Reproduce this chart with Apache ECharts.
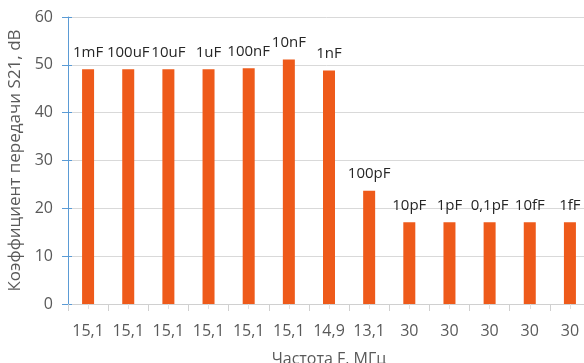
<!DOCTYPE html>
<html>
<head>
<meta charset="utf-8">
<script src="https://cdn.jsdelivr.net/npm/echarts@6/dist/echarts.min.js"></script>
<style>
html,body{margin:0;padding:0;background:#fff;}
#chart{width:584px;height:363px;}
</style>
</head>
<body>
<div id="chart"></div>
<script>
const categories = ['15,1','15,1','15,1','15,1','15,1','15,1','14,9','13,1','30','30','30','30','30'];
const values = [49.1, 49.1, 49.1, 49.1, 49.3, 51.1, 48.8, 23.7, 17.1, 17.1, 17.1, 17.1, 17.1];
const capLabels = ['1mF','100uF','10uF','1uF','100nF','10nF','1nF','100pF','10pF','1pF','0,1pF','10fF','1fF'];
const yTicks = {min: 0, max: 60, interval: 10};
const xName = 'Частота F, МГц';
const yName = 'Коэффициент передачи S21, dB';

const FONT = '"Open Sans", "DejaVu Sans", sans-serif';
const chart = echarts.init(document.getElementById('chart'), null, {renderer: 'canvas'});
const catIdx = categories.map((c, i) => i);

chart.setOption({
  animation: false,
  backgroundColor: '#ffffff',
  grid: {left: 68, width: 522, top: 17, height: 287, containLabel: false, outerBoundsMode: 'none'},
  xAxis: [{
    type: 'category',
    data: catIdx,
    position: 'bottom',
    axisLine: {show: true, lineStyle: {color: '#d0d0d0', width: 1}},
    axisTick: {show: true, length: 7, interval: 0, lineStyle: {color: '#d0d0d0'}},
    axisLabel: {interval: 0, formatter: (v, i) => categories[i], color: '#595959', fontSize: 16, fontFamily: FONT, margin: 19},
    name: xName,
    nameLocation: 'middle',
    nameGap: 47,
    nameTextStyle: {color: '#595959', fontSize: 16, fontFamily: FONT},
    splitLine: {show: false}
  }, {
    type: 'category',
    data: catIdx,
    position: 'bottom',
    axisLine: {show: false},
    axisTick: {show: true, alignWithLabel: true, interval: 0, length: 5, lineStyle: {color: '#e0e0e0'}},
    axisLabel: {show: false},
    splitLine: {show: false}
  }],
  yAxis: [{
    type: 'value',
    min: yTicks.min, max: yTicks.max, interval: yTicks.interval,
    axisLine: {show: true, lineStyle: {color: '#5b9bd5', width: 1}},
    axisTick: {show: true, length: 6, lineStyle: {color: '#5b9bd5'}},
    axisLabel: {color: '#595959', fontSize: 16, fontFamily: FONT, margin: 15},
    splitLine: {show: true, lineStyle: {color: '#d9d9d9', width: 1}},
    name: yName,
    nameLocation: 'middle',
    nameGap: 43,
    nameTextStyle: {color: '#595959', fontSize: 17, fontFamily: FONT}
  }, {
    type: 'value',
    position: 'left',
    min: yTicks.min, max: yTicks.max, interval: yTicks.interval,
    axisLine: {show: false},
    axisTick: {show: true, inside: true, length: 4, lineStyle: {color: '#5b9bd5'}},
    axisLabel: {show: false},
    splitLine: {show: false}
  }],
  series: [{
    type: 'bar',
    xAxisIndex: 0,
    yAxisIndex: 0,
    data: values,
    barWidth: 12,
    itemStyle: {color: '#ee5a1a'},
    label: {
      show: true,
      position: 'top',
      distance: 9,
      formatter: p => capLabels[p.dataIndex],
      color: '#262626',
      fontSize: 15,
      fontFamily: FONT
    }
  }]
});
</script>
</body>
</html>
